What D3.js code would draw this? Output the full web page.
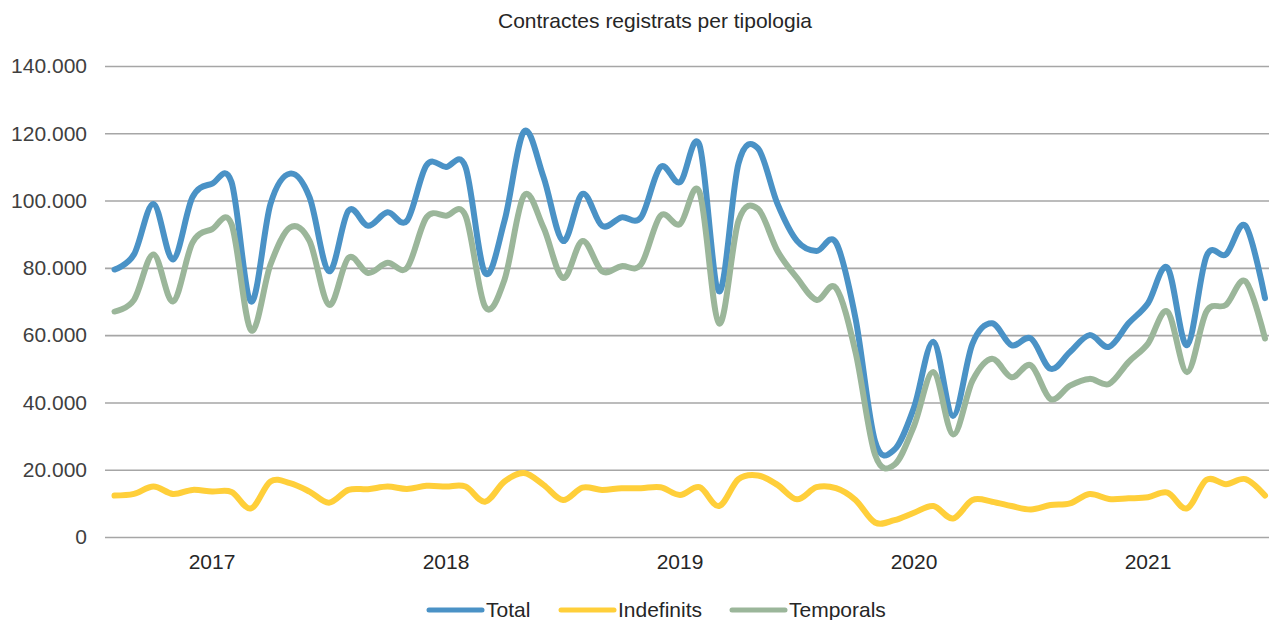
<!DOCTYPE html>
<html>
<head>
<meta charset="utf-8">
<script src="https://cdn.jsdelivr.net/npm/d3@7"></script>
<style>
  body { margin: 0; background: #fff; }
  svg { display: block; font-family: "Liberation Sans", Arial, sans-serif; }
</style>
</head>
<body>
<div class="chart"></div>
<script>
// monthly data, Jan 2017 - Dec 2021
const years = ['2017', '2018', '2019', '2020', '2021'];
const months = d3.range(60);

const total = [
    79.5, 84, 99, 82.5, 101, 105, 105.5, 70, 99, 108, 101, 79,
    97, 92.5, 96.5, 94, 110.5, 110, 110, 78.5, 94, 120.5, 107, 88,
    102, 92.5, 95, 95, 110, 105.5, 116.5, 73, 111, 115.5, 99, 88,
    85, 87.5, 65, 28.5, 26, 38.5, 58, 36, 57.5, 63.5, 57, 59,
    50, 55, 60, 56.5, 63.5, 69.5, 80, 57, 83.5, 84, 92.5, 71
].map(v => v * 1000);

const indefinits = [
    12.3, 12.8, 15, 12.8, 14, 13.5, 13.4, 8.5, 16.5, 16, 13.5, 10.2,
    14, 14.2, 15, 14.3, 15.2, 15, 15, 10.5, 16.5, 19, 15.5, 11,
    14.7, 14, 14.5, 14.5, 14.8, 12.5, 14.8, 9.2, 17.2, 18.3, 15.5, 11.2,
    14.8, 14.5, 11, 4.3, 5, 7.2, 9.2, 5.5, 11, 10.5, 9.2, 8.2,
    9.5, 10, 12.8, 11.3, 11.5, 11.8, 13.2, 8.5, 17, 15.7, 17.2, 12.3
].map(v => v * 1000);

const temporals = [
    67, 70.5, 84, 70, 87.5, 91.5, 93, 61.5, 81, 92, 88, 69,
    83, 78.5, 81.5, 80, 95, 95.5, 95.5, 68.5, 76.5, 101.5, 92, 77,
    88, 79, 80.5, 81, 95.5, 93, 102.5, 63.5, 94, 97.5, 85, 77,
    70.5, 74, 55, 24.5, 21.5, 33, 49, 30.5, 46.5, 53, 47.5, 51,
    41, 45, 47, 45.5, 52, 57.5, 67, 49, 67, 69, 76, 59
].map(v => v * 1000);

const yTicks = [0, 20000, 40000, 60000, 80000, 100000, 120000, 140000];

const seriesNames = ['Total', 'Indefinits', 'Temporals'];
const seriesColors = ['#4a92c6', '#ffcf3a', '#9bb69a'];

function createLineChart() {
    const width = 1269;
    const height = 620;
    const svg = d3.select('.chart')
        .append('svg')
        .attr('width', width)
        .attr('height', height);

    const x = d3.scalePoint()
        .domain(months)
        .range([114.5, 1265]);
    const y = d3.scaleLinear()
        .domain([0, 140000])
        .range([537, 66]);

    const locale = d3.formatLocale({decimal: ',', thousands: '.', grouping: [3], currency: ['', ' €']});
    const fmt = locale.format(',d');

    // title
    svg.append('text')
        .attr('x', 655)
        .attr('y', 28)
        .attr('text-anchor', 'middle')
        .attr('font-size', '21px')
        .attr('fill', '#262626')
        .text('Contractes registrats per tipologia');

    // gridlines
    svg.append('g')
        .attr('transform', 'translate(105,0)')
        .call(d3.axisLeft(y).tickValues(yTicks).tickSize(-1200).tickFormat(''))
        .call(g => g.select('.domain').remove())
        .call(g => g.selectAll('line').attr('stroke', '#a6a6a6').attr('stroke-width', 1.6));

    // y labels
    svg.selectAll('.y-label')
        .data(yTicks)
        .enter()
        .append('text')
        .attr('class', 'y-label')
        .attr('x', 87)
        .attr('y', d => y(d))
        .attr('dy', '0.35em')
        .attr('text-anchor', 'end')
        .attr('font-size', '21px')
        .attr('fill', '#404040')
        .text(d => fmt(d));

    // year labels
    svg.selectAll('.year-label')
        .data(years)
        .enter()
        .append('text')
        .attr('class', 'year-label')
        .attr('x', (d, i) => x(i * 12 + 5))
        .attr('y', 569)
        .attr('text-anchor', 'middle')
        .attr('font-size', '21px')
        .attr('fill', '#262626')
        .text(d => d);

    // lines
    const line = d3.line()
        .x((d, i) => x(i))
        .y(d => y(d))
        .curve(d3.curveCardinal.tension(0));

    [total, indefinits, temporals].forEach((series, k) => {
        svg.append('path')
            .datum(series)
            .attr('d', line)
            .attr('fill', 'none')
            .attr('stroke', seriesColors[k])
            .attr('stroke-width', 6)
            .attr('stroke-linejoin', 'round')
            .attr('stroke-linecap', 'round');
    });

    // legend
    const legendX = [429, 561, 732];
    const legend = svg.selectAll('.legend')
        .data(seriesNames)
        .enter()
        .append('g')
        .attr('class', 'legend')
        .attr('transform', (d, i) => `translate(${legendX[i]},610)`);
    legend.append('line')
        .attr('x1', 0)
        .attr('x2', 53)
        .attr('stroke', (d, i) => seriesColors[i])
        .attr('stroke-width', 5)
        .attr('stroke-linecap', 'round');
    legend.append('text')
        .attr('x', 57)
        .attr('y', 7)
        .attr('font-size', '21px')
        .attr('fill', '#262626')
        .text(d => d);
}

createLineChart();
</script>
</body>
</html>
